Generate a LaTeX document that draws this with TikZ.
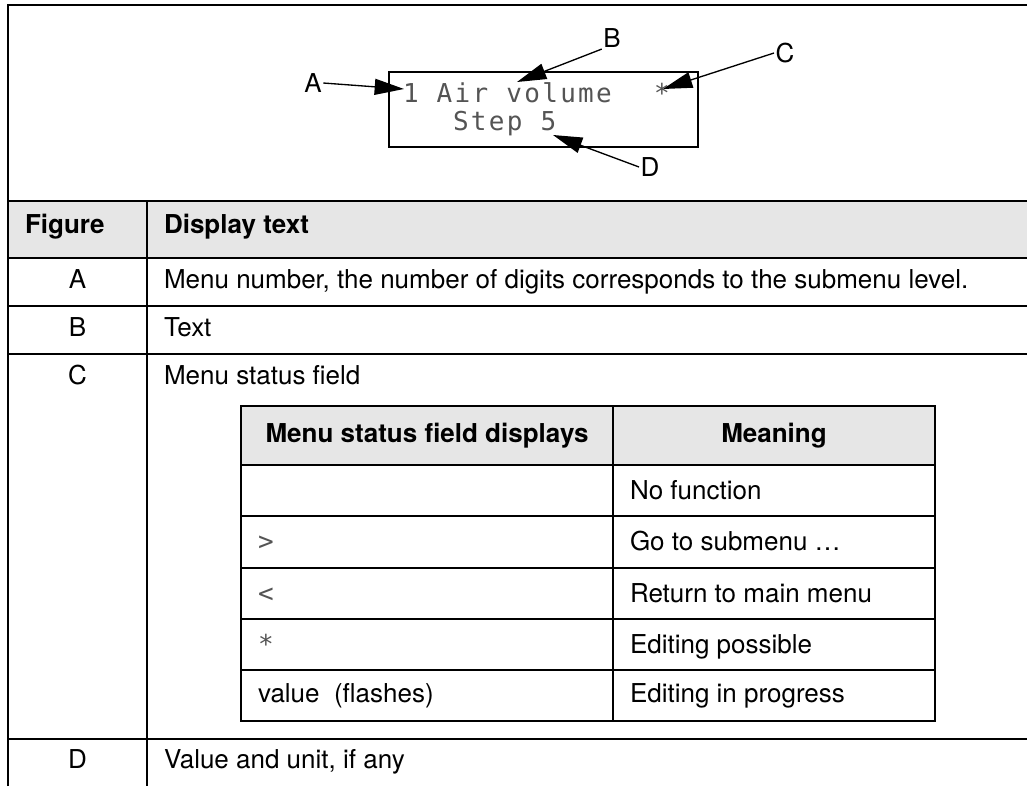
\documentclass[tikz,border=0pt]{standalone}
\usepackage{fontspec}
\setmainfont{TeX Gyre Heros}
\newfontfamily\lcdfont[LetterSpace=9]{DejaVu Sans Mono}
\usetikzlibrary{arrows.meta}
\definecolor{headgrey}{HTML}{E6E6E6}
\definecolor{lcdink}{gray}{0.33}
\begin{document}
\begin{tikzpicture}[x=0.75pt,y=-0.75pt,
  rule/.style={line width=1.6pt},
  txt/.style={inner sep=0pt, outer sep=0pt, anchor=base west, font=\fontsize{19.5}{23}\selectfont},
  ctr/.style={txt, anchor=base},
  hdr/.style={txt, font=\fontsize{19.5}{23}\selectfont\bfseries},
  hdrc/.style={hdr, anchor=base},
  lcd/.style={inner sep=0pt, outer sep=0pt, anchor=base west, text=lcdink, font=\lcdfont\fontsize{19.5}{23}\selectfont},
  lbl/.style={inner sep=1pt, font=\fontsize{19.5}{23}\selectfont},
  callout/.style={line width=1pt, -{Triangle[length=22pt,width=12pt]}}]
\useasboundingbox (0,0) rectangle (1027,786);

% ---- display with callouts ----
\node[draw, line width=1.7pt, inner sep=0pt, outer sep=0pt,
      minimum width=231.75pt, minimum height=56.25pt] (disp) at (543.5,109.5) {};
\node[lcd] (l1) at (403,102) {1 Air volume};
\node[lcd] (l1s) at (654,102) {*};
\node[lcd] (l2) at (453,130) {Step 5};

\node[lbl] (la) at (313,83) {A};
\node[lbl] (lb) at (612,38) {B};
\node[lbl] (lc) at (785,53) {C};
\node[lbl] (ld) at (650,167) {D};
\coordinate (tipa) at (404,89);
\coordinate (tipb) at (517,82);
\coordinate (tipc) at (663,89);
\coordinate (tipd) at (553,135);
\draw[callout] (la.east) -- (tipa);
\draw[callout] (lb.south west) -- (tipb);
\draw[callout] (lc.west) -- (tipc);
\draw[callout] (ld.west) -- (tipd);

% ---- main table ----
\fill[headgrey] (8,201) rectangle (1027,258);
\draw[rule] (8,786) -- (8,5) -- (1027,5);
\foreach \yy in {201,258,306,354,739} \draw[rule] (8,\yy) -- (1027,\yy);
\draw[rule] (147,201) -- (147,786);

\node[hdr] (hfig) at (25,233) {Figure};
\node[hdr] (hdisp) at (164,233) {Display text};
\node[ctr] (ka) at (77.5,288) {A};
\node[txt] (ta) at (164,288) {Menu number, the number of digits corresponds to the submenu level.};
\node[ctr] (kb) at (77.5,336) {B};
\node[txt] (tb) at (164,336) {Text};
\node[ctr] (kc) at (77.5,384) {C};
\node[txt] (tc) at (164,384) {Menu status field};
\node[ctr] (kd) at (77.5,768) {D};
\node[txt] (td) at (164,768) {Value and unit, if any};

% ---- nested status table ----
\fill[headgrey] (241,406) rectangle (935,465);
\draw[rule] (241,406) rectangle (935,721);
\foreach \yy in {465,516,568,619,670} \draw[rule] (241,\yy) -- (935,\yy);
\draw[rule] (613,406) -- (613,721);

\node[hdrc] (hst) at (427,442) {Menu status field displays};
\node[hdrc] (hmn) at (774,442) {Meaning};
\node[txt] (m1) at (630,499) {No function};
\node[lcd] (s2) at (258,550) {>};
\node[txt] (m2) at (630,550) {Go to submenu …};
\node[lcd] (s3) at (258,602) {<};
\node[txt] (m3) at (630,602) {Return to main menu};
\node[lcd] (s4) at (258,653) {*};
\node[txt] (m4) at (630,653) {Editing possible};
\node[txt] (s5) at (258,702) {value\ \ (flashes)};
\node[txt] (m5) at (630,702) {Editing in progress};
\end{tikzpicture}
\end{document}
